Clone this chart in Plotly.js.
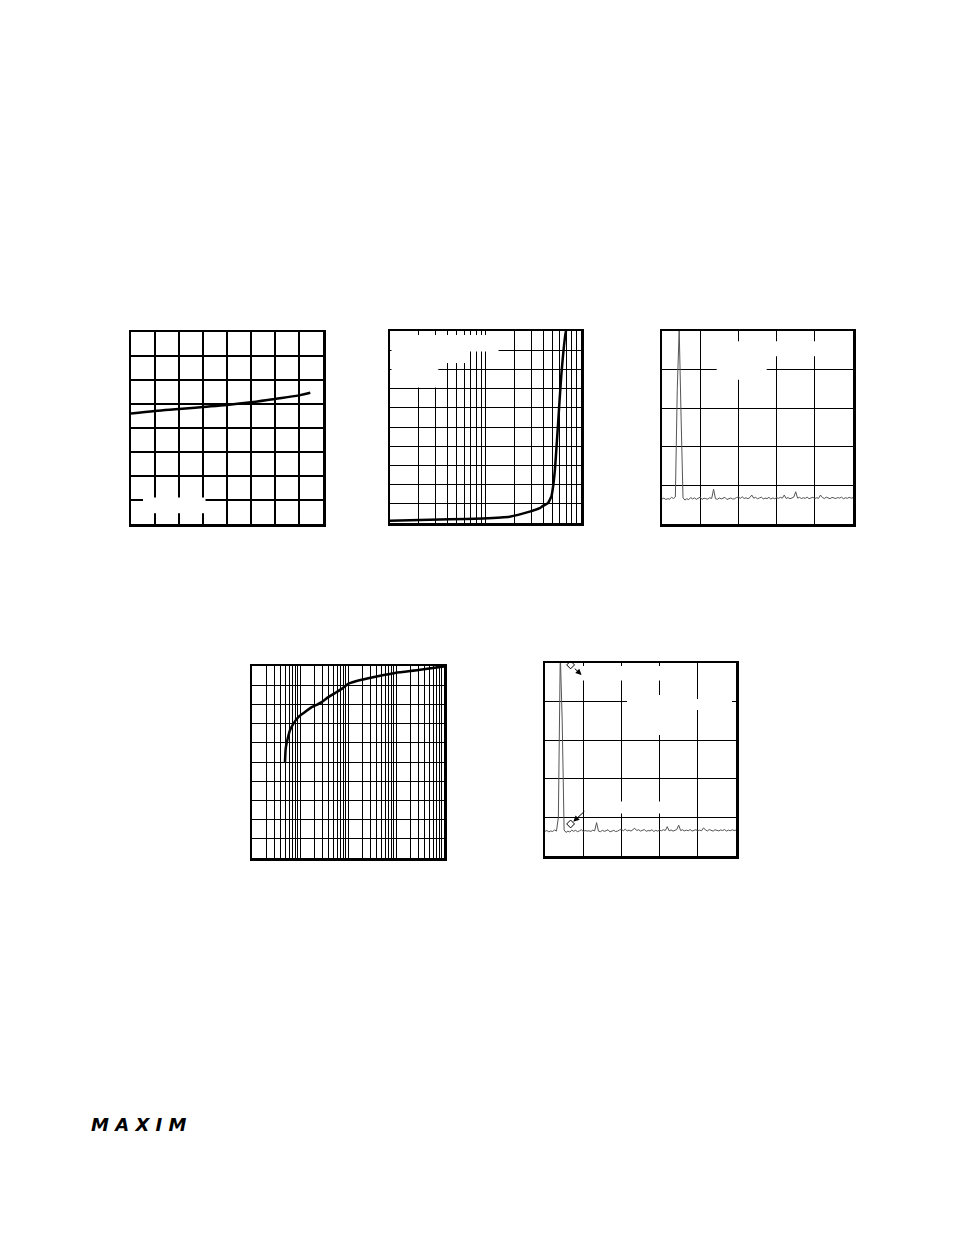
<!DOCTYPE html>
<html>
<head>
<meta charset="utf-8">
<script src="https://cdn.plot.ly/plotly-3.0.1.min.js"></script>
<style>
html,body{margin:0;padding:0;background:#fff;}
#chart{width:954px;height:1235px;}
</style>
</head>
<body>
<div id="chart"></div>
<script>
// ---------- data ----------
// Chart 1 (linear 8x8 grid)
const c1X = [0, 1, 2, 3, 4, 5, 6, 7, 7.47];
const c1Y = [4.60, 4.71, 4.79, 4.875, 4.96, 5.07, 5.21, 5.36, 5.47];

// Chart 2 (log x, 2 decades; 10 y divisions)
const c2X = [1.0, 4.22, 9.42, 17.9, 29.0, 36.9, 40.0, 45.1, 47.0, 48.9, 50.1, 53.1, 57.4, 62.2, 68.5, 69.7];
const c2Y = [0.12, 0.19, 0.24, 0.33, 0.59, 0.77, 0.89, 1.03, 1.20, 1.37, 1.63, 2.67, 5.10, 7.70, 9.80, 10.0];

// Chart 3 spectrum (dB), sampled every 0.05 division from 0 to 5
const c3Spec = [
 -87.0,-86.6,-87.3,-86.9,-87.1,-86.2,-86.8,-86.0,-30.0, 1.0,
 -45.0,-86.4,-87.6,-86.9,-87.4,-86.3,-87.0,-86.5,-87.2,-86.8,
 -86.1,-87.3,-86.6,-86.9,-87.1,-86.4,-86.8,-82.0,-86.9,-87.2,
 -86.5,-87.0,-86.7,-86.2,-87.3,-86.8,-86.5,-87.1,-86.9,-86.3,
 -86.0,-86.7,-85.9,-86.8,-86.4,-86.9,-86.3,-85.0,-86.6,-86.2,
 -86.9,-86.5,-86.1,-87.0,-86.6,-86.8,-86.2,-87.1,-86.5,-86.9,
 -86.4,-86.7,-86.2,-86.6,-85.0,-86.8,-86.3,-86.9,-86.5,-86.1,
 -83.3,-86.6,-86.2,-86.8,-86.4,-86.7,-86.1,-86.9,-86.5,-86.2,
 -86.8,-86.4,-86.7,-85.0,-86.3,-86.8,-86.1,-86.6,-86.9,-86.2,
 -86.5,-86.8,-86.3,-86.6,-86.1,-86.9,-86.4,-86.7,-86.2,-86.6,
 -86.4
];

// Chart 4 (log x, 4 decades; 10 y divisions)
const c4X = [4.87, 5.04, 5.55, 6.19, 7.24, 9.23, 12.7, 17.5, 22.3, 28.3, 38.9, 53.6, 74.0, 101, 140, 265, 953, 2920, 10000];
const c4Y = [4.97, 5.70, 6.22, 6.65, 6.99, 7.34, 7.60, 7.86, 7.98, 8.12, 8.38, 8.59, 8.81, 9.07, 9.19, 9.36, 9.64, 9.79, 9.98];

// Chart 5 spectrum (dB), sampled every 0.05 division from 0 to 5
const c5Spec = [
 -87.2,-86.8,-87.5,-87.0,-87.3,-86.5,-87.1,-80.0, 5.0,-30.0,
 -86.5,-87.8,-87.1,-87.6,-86.6,-87.2,-86.7,-87.4,-87.0,-86.4,
 -87.3,-86.8,-87.1,-86.9,-87.3,-86.6,-87.0,-82.7,-87.1,-87.4,
 -86.7,-87.2,-86.9,-86.4,-87.5,-87.0,-86.7,-87.3,-87.1,-86.5,
 -86.2,-86.9,-86.1,-87.0,-86.6,-87.1,-86.5,-85.6,-86.8,-86.4,
 -87.1,-86.7,-86.3,-87.2,-86.8,-87.0,-86.4,-87.3,-86.7,-87.1,
 -86.6,-86.9,-86.4,-86.8,-84.8,-87.0,-86.5,-87.1,-86.7,-86.3,
 -84.0,-86.8,-86.4,-87.0,-86.6,-86.9,-86.3,-87.1,-86.7,-86.4,
 -87.0,-86.6,-86.9,-85.4,-86.5,-87.0,-86.3,-86.8,-87.1,-86.4,
 -86.7,-87.0,-86.5,-86.8,-86.3,-87.1,-86.6,-86.9,-86.4,-86.8,
 -86.6
];
// Chart 5 markers (open diamonds)
const c5MarkX = [0.67, 0.67];
const c5MarkY = [-1.0, -83.4];

// ---------- layout helpers ----------
const W = 954, H = 1235;
const fx = v => v / W;
const fy = v => 1 - v / H;

function ax(domainPx, anchor, opts) {
  return Object.assign({
    domain: [fx(domainPx[0]), fx(domainPx[1])], anchor: anchor,
    showgrid: true, gridcolor: '#000', gridwidth: 1.2,
    zeroline: false, showticklabels: false, ticks: '',
    showline: true, mirror: true, linecolor: '#000', linewidth: 2.5,
    fixedrange: true
  }, opts);
}
function ay(domainPx, anchor, opts) {
  return Object.assign({
    domain: [fy(domainPx[1]), fy(domainPx[0])], anchor: anchor,
    showgrid: true, gridcolor: '#000', gridwidth: 1.2,
    zeroline: false, showticklabels: false, ticks: '',
    showline: true, mirror: true, linecolor: '#000', linewidth: 2.5,
    fixedrange: true
  }, opts);
}

const traces = [
  {x: c1X, y: c1Y, xaxis: 'x', yaxis: 'y', mode: 'lines',
   line: {color: '#000', width: 2.5, shape: 'spline'}, hoverinfo: 'skip'},
  {x: c2X, y: c2Y, xaxis: 'x2', yaxis: 'y2', mode: 'lines',
   line: {color: '#000', width: 2.5, shape: 'spline', smoothing: 0.5}, hoverinfo: 'skip'},
  {y: c3Spec, x0: 0, dx: 0.05, xaxis: 'x3', yaxis: 'y3', mode: 'lines',
   line: {color: '#555', width: 1}, hoverinfo: 'skip'},
  {x: c4X, y: c4Y, xaxis: 'x4', yaxis: 'y4', mode: 'lines',
   line: {color: '#000', width: 2.5, shape: 'spline', smoothing: 0.6}, hoverinfo: 'skip'},
  {y: c5Spec, x0: 0, dx: 0.05, xaxis: 'x5', yaxis: 'y5', mode: 'lines',
   line: {color: '#555', width: 1}, hoverinfo: 'skip'},
  {x: c5MarkX, y: c5MarkY, xaxis: 'x5', yaxis: 'y5', mode: 'markers',
   marker: {symbol: 'diamond-open', size: 6, color: '#000', line: {width: 1}}, hoverinfo: 'skip', cliponaxis: false}
];

// white boxes where the original labels sat (pixel rectangles)
const blanks = [
  [143, 497.5, 205.5, 513.3],
  [391.5, 335, 498.5, 351.5],
  [391.5, 351, 438.3, 387.5],
  [438, 351, 465, 363],
  [716.7, 341.3, 766.7, 379.7],
  [766.7, 341.3, 820.7, 356.3],
  [582, 666, 677, 680.5],
  [627, 695, 677, 735],
  [627, 699, 732, 710],
  [590, 801.5, 674, 813.5]
];
const shapes = blanks.map(b => ({
  type: 'rect', xref: 'paper', yref: 'paper',
  x0: fx(b[0]), x1: fx(b[2]), y0: fy(b[3]), y1: fy(b[1]),
  fillcolor: '#fff', line: {width: 0}, layer: 'above'
}));

const layout = {
  width: W, height: H,
  margin: {l: 0, r: 0, t: 0, b: 0},
  paper_bgcolor: '#fff', plot_bgcolor: '#fff',
  showlegend: false,
  xaxis:  ax([131, 323], 'y',  {range: [0, 8], dtick: 1}),
  yaxis:  ay([332, 524], 'x',  {range: [0, 8], dtick: 1}),
  xaxis2: ax([390, 581], 'y2', {type: 'log', range: [0, 2], dtick: 'D1', gridwidth: 1}),
  yaxis2: ay([331, 523], 'x2', {range: [0, 10], dtick: 1, gridwidth: 1}),
  xaxis3: ax([662, 853], 'y3', {range: [0, 5], dtick: 1}),
  yaxis3: ay([331, 524], 'x3', {range: [-100, 0], dtick: 20}),
  xaxis4: ax([252, 444], 'y4', {type: 'log', range: [0, 4], dtick: 'D1', gridwidth: 1}),
  yaxis4: ay([666, 858], 'x4', {range: [0, 10], dtick: 1, gridwidth: 1}),
  xaxis5: ax([545, 736], 'y5', {range: [0, 5], dtick: 1}),
  yaxis5: ay([663, 856], 'x5', {range: [-100, 0], dtick: 20}),
  shapes: shapes,
  annotations: [
    {xref: 'x5', yref: 'y5', axref: 'x5', ayref: 'y5',
     x: 0.96, y: -6.2, ax: 0.74, ay: -2.2, text: '', showarrow: true,
     arrowhead: 2, arrowsize: 1.2, arrowwidth: 1, arrowcolor: '#000'},
    {xref: 'x5', yref: 'y5', axref: 'x5', ayref: 'y5',
     x: 0.74, y: -82.2, ax: 1.07, ay: -76.2, text: '', showarrow: true,
     arrowhead: 2, arrowsize: 1.2, arrowwidth: 1, arrowcolor: '#000'},
    {xref: 'paper', yref: 'paper', x: fx(138), y: fy(1124), xanchor: 'center', yanchor: 'middle',
     text: '<b><i>M A X I M</i></b>', showarrow: false,
     font: {family: 'DejaVu Sans, sans-serif', size: 18, color: '#000'}}
  ]
};

Plotly.newPlot('chart', traces, layout, {staticPlot: true, displayModeBar: false});
</script>
</body>
</html>
